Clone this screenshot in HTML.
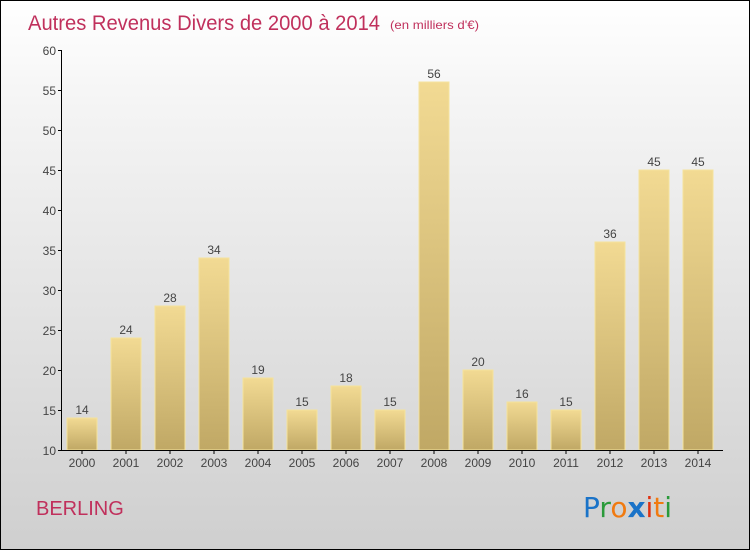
<!DOCTYPE html>
<html><head><meta charset="utf-8"><style>
body{margin:0;}
#c{width:748px;height:548px;border:1px solid #000;background:linear-gradient(#ffffff,#f4f4f4 20%,#cfcfcf);position:relative;overflow:hidden;font-family:"Liberation Sans",sans-serif;}
svg{position:absolute;left:0;top:0;}
</style></head><body>
<div id="c">
<svg id="s" width="748" height="548">
<defs><linearGradient id="g" x1="0" y1="0" x2="0" y2="1"><stop offset="0" stop-color="#f2da93"/><stop offset="1" stop-color="#c0a865"/></linearGradient></defs>
<text x="27" y="29" font-size="21" fill="#c0305c" textLength="352" lengthAdjust="spacingAndGlyphs">Autres Revenus Divers de 2000 à 2014</text>
<text x="389" y="28" font-size="12" fill="#c0305c" textLength="89" lengthAdjust="spacingAndGlyphs">(en milliers d'€)</text>
<text x="35" y="514" font-size="20" fill="#c0305c">BERLING</text>
<g font-size="28" font-family="'DejaVu Sans',sans-serif"><text x="582" y="516"><tspan fill="#1a73c8">P</tspan><tspan fill="#2a9a3a">r</tspan><tspan fill="#f07a10">o</tspan><tspan fill="#1a73c8" font-weight="bold">x</tspan><tspan fill="#e03010">i</tspan><tspan fill="#f07a10">t</tspan><tspan fill="#2a9a3a">i</tspan></text></g>
</svg>
</div>
<script>
const categories=["2000","2001","2002","2003","2004","2005","2006","2007","2008","2009","2010","2011","2012","2013","2014"];
const values=[14,24,28,34,19,15,18,15,56,20,16,15,36,45,45];
const yTicks=[10,15,20,25,30,35,40,45,50,55,60];
const s=document.getElementById('s');const NS='http://www.w3.org/2000/svg';
const y=v=>449-(v-10)*8;const x=i=>81+i*44;
function mk(t,a){const e=document.createElementNS(NS,t);for(const k in a)e.setAttribute(k,a[k]);s.appendChild(e);return e;}
categories.forEach((c,i)=>{
const r=mk('rect',{x:x(i)-15,y:y(values[i]),width:30,height:449-y(values[i]),fill:'url(#g)',stroke:'#f5e39c','stroke-width':1});


const t=mk('text',{x:x(i),y:y(values[i])-4,'font-size':12,fill:'#444','text-anchor':'middle'});t.textContent=values[i];


const l=mk('text',{x:x(i),y:466,'font-size':12,fill:'#444','text-anchor':'middle'});l.textContent=c;


mk('line',{x1:x(i),x2:x(i),y1:449,y2:453,stroke:'#000'});
});
yTicks.forEach(v=>{
mk('line',{x1:57,x2:61,y1:y(v)+0.5,y2:y(v)+0.5,stroke:'#000'});
const t=mk('text',{x:55,y:y(v)+5,'font-size':12,fill:'#444','text-anchor':'end'});t.textContent=v;


});
const ya=mk('line',{x1:60.5,x2:60.5,y1:y(60),y2:450,stroke:'#000'});


const xa=mk('line',{x1:60,x2:722,y1:449.5,y2:449.5,stroke:'#000'});


</script>
</body></html>
